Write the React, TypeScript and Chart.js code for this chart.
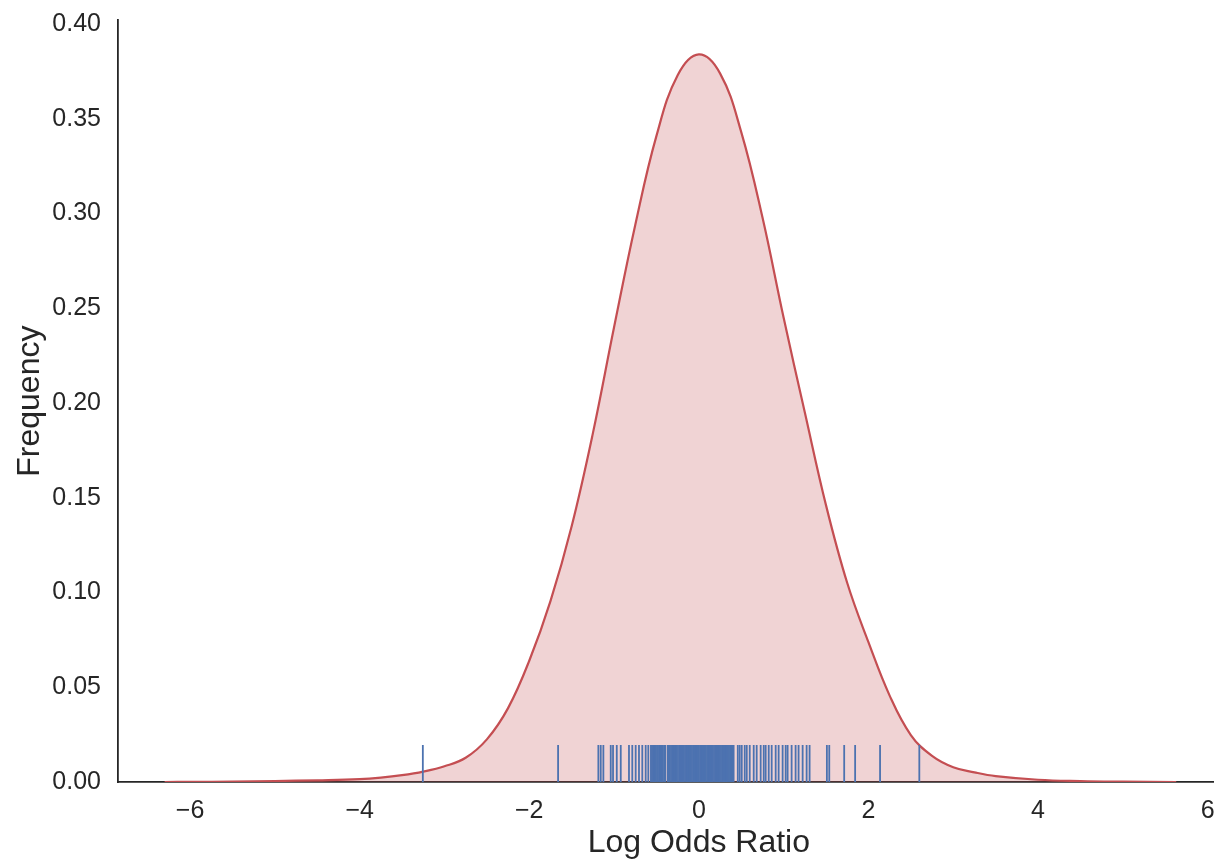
import React, { useEffect, useRef } from "react";
import { Chart, registerables } from "chart.js";

Chart.register(...registerables);

// KDE curve (x: log odds ratio, y: density)
const KDE_X = [-6.3, -6.0, -5.5, -5.0, -4.5, -4.0, -3.75, -3.5, -3.25, -3.0, -2.75, -2.5, -2.25, -2.0, -1.75, -1.5, -1.25, -1.0, -0.75, -0.5, -0.25, 0, 0.25, 0.5, 0.75, 1.0, 1.25, 1.5, 1.75, 2.0, 2.25, 2.5, 2.75, 3.0, 3.25, 3.5, 4.0, 4.5, 5.0, 5.63];
const KDE_Y = [0, 0.0001, 0.0002, 0.0005, 0.0009, 0.0015, 0.0023, 0.0036, 0.0055, 0.0083, 0.0128, 0.0225, 0.039, 0.064, 0.0955, 0.135, 0.184, 0.240, 0.294, 0.341, 0.373, 0.384, 0.374, 0.343, 0.298, 0.245, 0.195, 0.146, 0.105, 0.0738, 0.0456, 0.0248, 0.0138, 0.0078, 0.0051, 0.0031, 0.0012, 0.0005, 0.0002, 0];

// Rug observations (log odds ratio)
const RUG = [
  -3.255, -1.66, -1.185, -1.157, -1.126, -1.039, -1.012, -0.968, -0.921, -0.824, -0.785, -0.745, -0.706, -0.667, -0.627, -0.596,
  -0.565, -0.552, -0.538, -0.521, -0.509, -0.494, -0.482, -0.468, -0.451, -0.439, -0.425, -0.41, -0.398, -0.369, -0.355, -0.342, -0.328, -0.313, -0.301, -0.287, -0.272, -0.26, -0.246, -0.231, -0.219, -0.204, -0.191, -0.177, -0.163, -0.15, -0.136, -0.121, -0.109, -0.094, -0.081, -0.067, -0.053, -0.04, -0.026, -0.012, 0.001, 0.015, 0.029, 0.042, 0.056, 0.07, 0.083, 0.097, 0.111, 0.124, 0.138, 0.152, 0.165, 0.179, 0.193, 0.206, 0.22, 0.233, 0.247, 0.261, 0.274, 0.288, 0.302, 0.315, 0.329, 0.343, 0.356, 0.37, 0.384, 0.397, 0.41,
  0.459, 0.482, 0.506, 0.541, 0.565, 0.6, 0.647, 0.682, 0.729, 0.765, 0.788, 0.824, 0.859, 0.906, 0.941, 0.988, 1.024, 1.047, 1.094, 1.141, 1.176, 1.224, 1.271, 1.306,
  1.51, 1.538, 1.714, 1.843, 2.137, 2.6,
];

const X_TICK_STEP = 2;
const Y_TICK_STEP = 0.05;
const X_TITLE = "Log Odds Ratio";
const Y_TITLE = "Frequency";

const FONT = "'Liberation Sans', Arial, Helvetica, sans-serif";
const TEXT = "#262626";

const fmtMinus = (v: number, digits: number) => {
  const s = Math.abs(v).toFixed(digits);
  return v < 0 ? "\u2212" + s : s;
};

export default function App() {
  const ref = useRef<HTMLCanvasElement | null>(null);

  useEffect(() => {
    if (!ref.current) return;
    const chart = new Chart(ref.current, {
      type: "scatter",
      data: {
        datasets: [
          {
            type: "scatter",
            data: RUG.map((x) => ({ x, y: 0.0097 })),
            pointStyle: "line",
            rotation: 90,
            radius: 18.5,
            borderColor: "#4c72b0",
            backgroundColor: "#4c72b0",
            borderWidth: 1.8,
            order: 0,
          } as any,
          {
            type: "line",
            data: KDE_X.map((x, i) => ({ x, y: KDE_Y[i] })),
            borderColor: "#c44e52",
            borderWidth: 2.2,
            backgroundColor: "rgba(196,78,82,0.25)",
            fill: "origin",
            pointRadius: 0,
            tension: 0.4,
            order: 1,
          } as any,
        ],
      },
      options: {
        responsive: false,
        animation: false,
        events: [],
        layout: { padding: { top: 0, right: 18, left: 0, bottom: 0 } },
        plugins: { legend: { display: false }, tooltip: { enabled: false } },
        scales: {
          x: {
            type: "linear",
            min: -6.85,
            max: 6.85,
            grid: { display: false, drawTicks: false },
            border: { display: true, color: TEXT, width: 1.8 },
            ticks: {
              stepSize: X_TICK_STEP,
              includeBounds: false,
              padding: 14,
              color: TEXT,
              font: { family: FONT, size: 25 },
              callback: (v: any) => fmtMinus(Number(v), 0),
            },
            title: {
              display: true,
              text: X_TITLE,
              color: TEXT,
              font: { family: FONT, size: 32, lineHeight: 1.1 },
              padding: { top: 0, bottom: 0 },
            },
            afterFit: (s: any) => {
              s.height = 79;
            },
          },
          y: {
            type: "linear",
            min: 0,
            max: 0.402,
            grid: { display: false, drawTicks: false },
            border: { display: true, color: TEXT, width: 1.8 },
            ticks: {
              stepSize: Y_TICK_STEP,
              includeBounds: false,
              padding: 17,
              color: TEXT,
              font: { family: FONT, size: 25, lineHeight: 1.2 },
              callback: (v: any) => fmtMinus(Number(v), 2),
            },
            title: {
              display: true,
              text: Y_TITLE,
              color: TEXT,
              font: { family: FONT, size: 32, lineHeight: 1.2 },
              padding: { top: 11, bottom: 0 },
            },
            afterFit: (s: any) => {
              s.width = 118;
              s.paddingTop = 18;
              s.paddingBottom = 0;
            },
          },
        },
      } as any,
    });
    return () => chart.destroy();
  }, []);

  return (
    <div
      style={{
        position: "fixed",
        left: 0,
        top: 0,
        width: 1214,
        height: 861,
        overflow: "hidden",
        background: "#fff",
      }}
    >
      <canvas ref={ref} width={1300} height={861} style={{ width: 1300, height: 861, display: "block" }} />
    </div>
  );
}
